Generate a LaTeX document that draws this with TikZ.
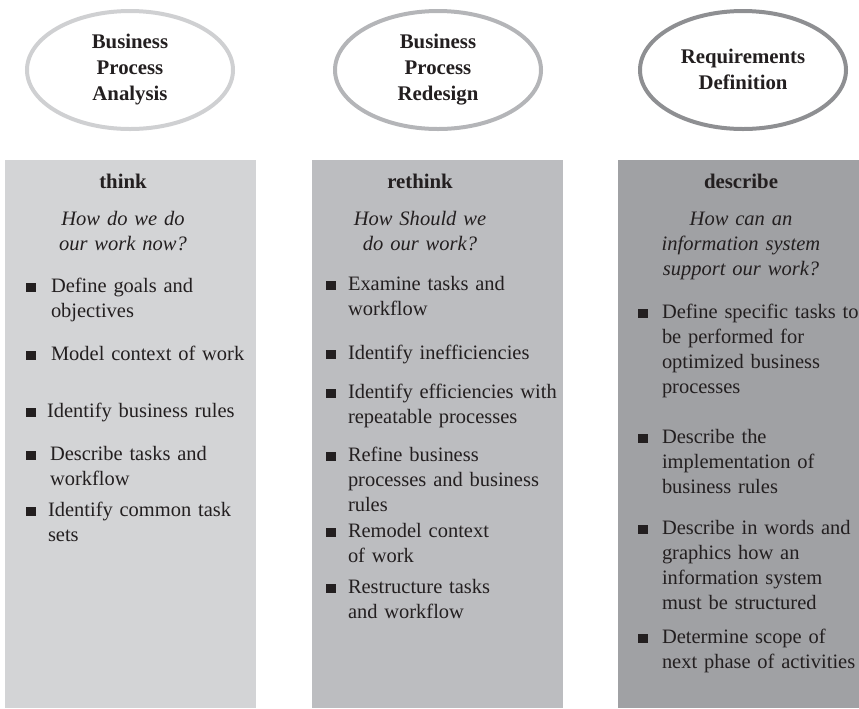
\documentclass[tikz,border=0pt]{standalone}
\usepackage{fontspec}
\setmainfont{Liberation Serif}
\usetikzlibrary{shapes.geometric}
\definecolor{txt}{HTML}{231F20}
\definecolor{fillA}{HTML}{D3D4D6}
\definecolor{fillB}{HTML}{BCBDC0}
\definecolor{fillC}{HTML}{A0A1A4}
\definecolor{ringA}{HTML}{CFD0D2}
\definecolor{ringB}{HTML}{B4B5B8}
\definecolor{ringC}{HTML}{8E8F92}
\begin{document}
\begin{tikzpicture}[x=0.75pt,y=-0.75pt,
  every node/.style={inner sep=0pt, outer sep=0pt, text=txt},
  ring/.style={ellipse, draw=#1, line width=3pt, minimum width=154.5pt, minimum height=88.5pt},
  ringtext/.style={font=\bfseries\fontsize{15.6pt}{19.5pt}\selectfont, align=center, text width=150pt, anchor=base},
  panel/.style={fill=#1, draw=none, anchor=north west, minimum width=188.25pt, minimum height=411pt},
  head/.style={font=\bfseries\fontsize{15.6pt}{18.75pt}\selectfont, anchor=base},
  question/.style={font=\itshape\fontsize{15.4pt}{19pt}\selectfont, align=center, text width=150pt, anchor=base},
  item/.style={font=\fontsize{15.35pt}{18.75pt}\selectfont, align=left, text width=170pt, anchor=base west},
  bulletbox/.style={fill=txt, minimum width=7.5pt, minimum height=6.75pt, anchor=south west},
]
\useasboundingbox (0,0) rectangle (859,708);

% panels
\node[panel=fillA] (p1) at (5,160) {};
\node[panel=fillB] (p2) at (312,160) {};
\node[panel=fillC] (p3) at (618,160) {};

% ellipses
\node[ring=ringA] (e1) at (130,70) {};
\node[ring=ringB] (e2) at (438,70) {};
\node[ring=ringC] (e3) at (743,70) {};
\node[ringtext] (e1t) at (130,48) {Business\\Process\\Analysis};
\node[ringtext] (e2t) at (438,48) {Business\\Process\\Redesign};
\node[ringtext] (e3t) at (743,63) {Requirements\\Definition};

% headings
\node[head] (h1) at (123,188) {think};
\node[head] (h2) at (420,188) {rethink};
\node[head] (h3) at (741,188) {describe};

% questions
\node[question] (q1) at (123,225) {How do we do\\our work now?};
\node[question] (q2) at (420,225) {How Should we\\do our work?};
\node[question] (q3) at (741,225) {How can an\\information system\\support our work?};

% column 1
\node[bulletbox] (b1a) at (26,292) {};
\node[item] (t1a) at (51,292) {Define goals and\\objectives};
\node[bulletbox] (b1b) at (26,359.5) {};
\node[item] (t1b) at (51,360) {Model context of work};
\node[bulletbox] (b1c) at (26,416.5) {};
\node[item] (t1c) at (47,417) {Identify business rules};
\node[bulletbox] (b1d) at (26,459.5) {};
\node[item] (t1d) at (50,460) {Describe tasks and\\workflow};
\node[bulletbox] (b1e) at (26,515.5) {};
\node[item] (t1e) at (48,516) {Identify common task\\sets};

% column 2
\node[bulletbox] (b2a) at (326,290) {};
\node[item] (t2a) at (348,290) {Examine tasks and\\workflow};
\node[bulletbox] (b2b) at (326,359) {};
\node[item] (t2b) at (348,359) {Identify inefficiencies};
\node[bulletbox] (b2c) at (326,398) {};
\node[item] (t2c) at (348,398) {Identify efficiencies with\\repeatable processes};
\node[bulletbox] (b2d) at (326,461) {};
\node[item] (t2d) at (348,461) {Refine business\\processes and business\\rules};
\node[bulletbox] (b2e) at (326,537) {};
\node[item] (t2e) at (348,537) {Remodel context\\of work};
\node[bulletbox] (b2f) at (326,593) {};
\node[item] (t2f) at (348,593) {Restructure tasks\\and workflow};

% column 3
\node[bulletbox] (b3a) at (638,318) {};
\node[item] (t3a) at (662,318) {Define specific tasks to\\be performed for\\optimized business\\processes};
\node[bulletbox] (b3b) at (638,443) {};
\node[item] (t3b) at (662,443) {Describe the\\implementation of\\business rules};
\node[bulletbox] (b3c) at (638,534) {};
\node[item] (t3c) at (662,534) {Describe in words and\\graphics how an\\information system\\must be structured};
\node[bulletbox] (b3d) at (638,643) {};
\node[item] (t3d) at (662,643) {Determine scope of\\next phase of activities};
\end{tikzpicture}
\end{document}
